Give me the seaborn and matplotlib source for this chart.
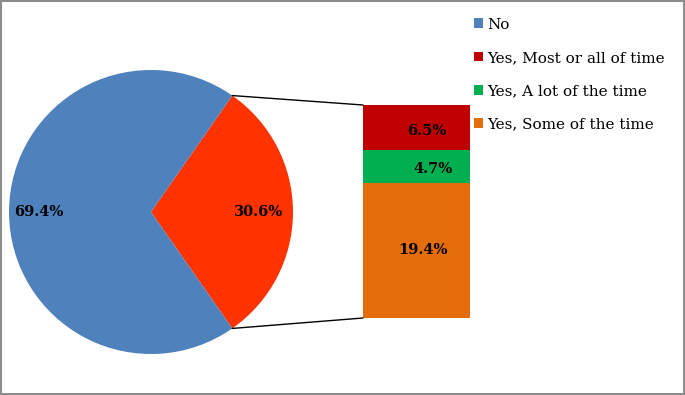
import numpy as np
import matplotlib
matplotlib.use('Agg')
import matplotlib.pyplot as plt
import seaborn as sns

# Pie: No vs Yes (total)
pie_labels = ['Yes', 'No']
pie_values = [30.6, 69.4]
pie_colors = ['#FF3300', '#4F81BD']

# Bar of pie: breakdown of "Yes" (bottom to top)
bar_labels = ['Yes, Some of the time', 'Yes, A lot of the time', 'Yes, Most or all of time']
bar_values = [19.4, 4.7, 6.5]
bar_colors = ['#E46C0A', '#00B050', '#C00000']

legend_order = ['No', 'Yes, Most or all of time', 'Yes, A lot of the time', 'Yes, Some of the time']

sns.set_style('white')
plt.rcParams['font.family'] = ['DejaVu Serif']
plt.rcParams['text.color'] = 'black'

W, H = 685, 395
fig = plt.figure(figsize=(W / 100, H / 100), dpi=100,
                 edgecolor='#8c8c8c', linewidth=1.5)
ax = fig.add_axes([0, 0, 1, 1])

# pie, centered in pixel coordinates (y up)
cx, cy, r = 151, H - 212, 142
half = pie_values[0] / 100 * 360 / 2
wedges, _ = ax.pie(pie_values, colors=pie_colors, center=(cx, cy), radius=r,
                   startangle=-half, counterclock=True, frame=True,
                   wedgeprops=dict(linewidth=0))
ax.set_xlim(0, W)
ax.set_ylim(0, H)
ax.set_aspect('equal')
ax.axis('off')

lab_kw = dict(ha='center', va='center', fontsize=10.5, fontweight='bold')
ax.text(cx - 112, cy, f'{pie_values[1]:.1f}%', **lab_kw)
ax.text(cx + 108, cy, f'{pie_values[0]:.1f}%', **lab_kw)

# stacked bar
bar_left, bar_right = 363, 470
bar_bottom, bar_top = H - 318, H - 105
scale = (bar_top - bar_bottom) / sum(bar_values)
bottom = bar_bottom
bar_patches = []
label_dx = [7, 17, 10]
label_dy = [0, -2, -3]
for val, col, dx, dy in zip(bar_values, bar_colors, label_dx, label_dy):
    hgt = val * scale
    b = ax.bar((bar_left + bar_right) / 2, hgt, width=bar_right - bar_left,
               bottom=bottom, color=col, linewidth=0)
    bar_patches.append(b[0])
    ax.text((bar_left + bar_right) / 2 + dx, bottom + hgt / 2 + dy,
            f'{val:.1f}%', **lab_kw)
    bottom += hgt

# connector lines
a = np.deg2rad(half)
ax.plot([cx + r * np.cos(a), bar_left], [cy + r * np.sin(a), bar_top],
        color='black', lw=1)
ax.plot([cx + r * np.cos(-a), bar_left], [cy + r * np.sin(-a), bar_bottom],
        color='black', lw=1)

handle_map = {'No': wedges[1]}
for lab, p in zip(bar_labels, bar_patches):
    handle_map[lab] = p
ax.legend([handle_map[k] for k in legend_order], legend_order,
          loc='upper left', bbox_to_anchor=(466 / W, 1 - 10 / H),
          frameon=False, fontsize=11, handlelength=0.6, handleheight=0.6,
          handletextpad=0.3, labelspacing=1.26, borderpad=0, labelcolor='black')

fig.savefig('out.png', dpi=100, edgecolor=fig.get_edgecolor())
